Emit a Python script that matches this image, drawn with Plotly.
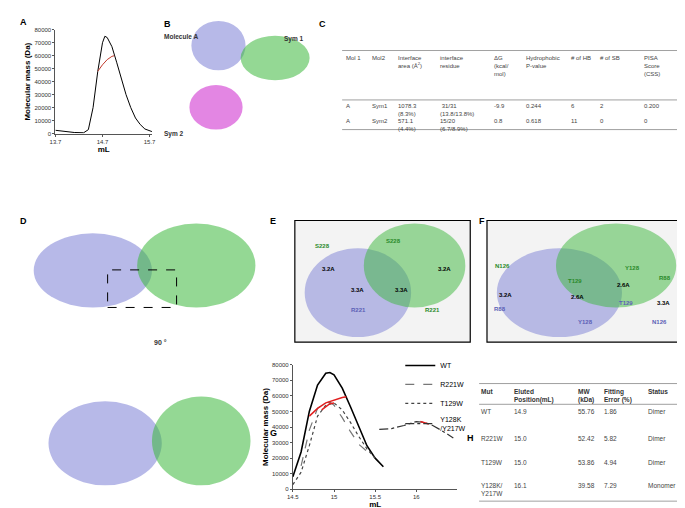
import plotly.graph_objects as go

W, H = 685, 508
def px(x): return x / W
def py(y): return 1 - y / H

# panel A: SEC-MALS of WT
a_ml = [13.7, 13.9, 14.1, 14.3, 14.4, 14.5, 14.6, 14.7, 14.75, 14.8, 14.9, 15.0, 15.1, 15.2, 15.3, 15.4, 15.5, 15.6, 15.75]
a_mass = [2500, 1500, 800, 600, 3000, 20000, 48000, 70000, 75000, 74000, 67000, 55000, 42000, 30000, 20000, 12000, 7000, 3500, 1500]
a_red_ml = [14.6, 14.7, 14.8, 14.9, 14.95]
a_red_mass = [48000, 53000, 57000, 59500, 60000]

# panel G: mutants
wt_ml = [14.5, 14.6, 14.7, 14.8, 14.9, 14.95, 15.0, 15.1, 15.2, 15.3, 15.4, 15.5, 15.6]
wt_mass = [8000, 24000, 50000, 67000, 74500, 75000, 73500, 65000, 53000, 40000, 28000, 20000, 14500]
wt_red_ml = [14.7, 14.8, 14.9, 15.0, 15.1, 15.15]
wt_red = [47000, 52000, 55500, 57500, 59000, 59500]
r221_ml = [14.6, 14.7, 14.8, 14.9, 14.95, 15.0, 15.1, 15.2, 15.3, 15.45]
r221_mass = [15000, 38000, 52000, 55500, 56000, 54000, 46000, 37000, 29000, 22000]
t129_ml = [14.5, 14.6, 14.7, 14.8, 14.9, 15.0, 15.1, 15.2, 15.3, 15.4, 15.5]
t129_mass = [3000, 11000, 28000, 47000, 54000, 55500, 51000, 43000, 34000, 26000, 20000]
mid_red_ml = [14.85, 14.9, 14.95, 15.0]
mid_red = [51000, 53000, 55000, 55500]
y128_ml = [15.55, 15.7, 15.85, 16.0, 16.1, 16.2, 16.3, 16.45]
y128_mass = [38500, 39000, 41000, 43500, 43000, 41000, 38000, 33000]
y128_red_ml = [16.05, 16.1, 16.15]
y128_red = [43500, 42500, 42000]

# table C
c_head = ["Mol 1", "Mol2", "Interface<br>area (Å<sup>2</sup>)", "interface<br>residue", "ΔG<br>(kcal/<br>mol)",
          "Hydrophobic<br>P-value", "# of HB", "# of SB", "PISA<br>Score<br>(CSS)"]
c_row1 = ["A", "Sym1", "1078.3<br>(8.3%)", " 31/31<br>(13.8/13.8%)", "-9.9", "0.244", "6", "2", "0.200"]
c_row2 = ["A", "Sym2", "571.1<br>(4.4%)", "15/20<br>(6.7/8.9%)", "0.8", "0.618", "11", "0", "0"]
c_cols = [335, 361, 388, 430, 485, 518, 563, 593, 637]

# table H
h_head = ["Mut", "Eluted<br>Position(mL)", "MW<br>(kDa)", "Fitting<br>Error (%)", "Status"]
h_rows = [["WT", "14.9", "55.76", "1.86", "Dimer"],
          ["R221W", "15.0", "52.42", "5.82", "Dimer"],
          ["T129W", "15.0", "53.86", "4.94", "Dimer"],
          ["Y128K/<br>Y217W", "16.1", "39.58", "7.29", "Monomer"]]
h_cols = [472, 505, 570, 597, 641]
h_rowy = [400, 427, 451, 475]

fig = go.Figure()
fig.add_trace(go.Scatter(x=a_ml, y=a_mass, mode="lines", line=dict(color="black", width=1), showlegend=False))
fig.add_trace(go.Scatter(x=a_red_ml, y=a_red_mass, mode="lines", line=dict(color="#c0392b", width=1), showlegend=False))

g = dict(xaxis="x2", yaxis="y2")
fig.add_trace(go.Scatter(x=wt_ml, y=wt_mass, name="WT", mode="lines", line=dict(color="black", width=1.6), **g))
fig.add_trace(go.Scatter(x=r221_ml, y=r221_mass, name="R221W", mode="lines", line=dict(color="#777", width=1.2, dash="dash"), **g))
fig.add_trace(go.Scatter(x=t129_ml, y=t129_mass, name="T129W", mode="lines", line=dict(color="#444", width=1.2, dash="dot"), **g))
fig.add_trace(go.Scatter(x=y128_ml, y=y128_mass, name="Y128K<br>/Y217W", mode="lines", line=dict(color="#333", width=1.2, dash="dashdot"), **g))
for xs, ys in [(wt_red_ml, wt_red), (mid_red_ml, mid_red), (y128_red_ml, y128_red)]:
    fig.add_trace(go.Scatter(x=xs, y=ys, mode="lines", line=dict(color="#e02020", width=1.5), showlegend=False, **g))

ann = []
shapes = []
def text(x, y, s, size=7, color="#444", bold=False, xa="left", ya="top"):
    ann.append(dict(x=px(x), y=py(y), xref="paper", yref="paper", text=f"<b>{s}</b>" if bold else s,
                    showarrow=False, xanchor=xa, yanchor=ya, align="left",
                    font=dict(family="Liberation Sans, Arial", size=size, color=color)))
def hline(x0, x1, y, c="#888"):
    shapes.append(dict(type="line", xref="paper", yref="paper", x0=px(x0), x1=px(x1), y0=py(y), y1=py(y), line=dict(color=c, width=0.8)))

for lab, x, y in [("A", 4, 4), ("B", 150, 6), ("C", 307, 6), ("D", 4, 205), ("E", 258, 205), ("F", 470, 205), ("G", 258, 420), ("H", 458, 425)]:
    text(x, y, lab, size=9, color="black", bold=True)

# table C
for row, y in [(c_head, 43), (c_row1, 91), (c_row2, 106)]:
    for s, x in zip(row, c_cols):
        text(x, y, s, size=6)
hline(333, 678, 40); hline(333, 678, 90); hline(333, 678, 120)

# table H
for s, x in zip(h_head, h_cols):
    text(x, 379, s, size=6.5, color="#333", bold=True)
for row, y in zip(h_rows, h_rowy):
    for s, x in zip(row, h_cols):
        text(x, y, s, size=6.5)
hline(472, 684, 377); hline(472, 684, 398); hline(472, 684, 496)

# structure placeholders (x0, y0, x1, y1 in pixels)
blob = [(180, 10, 235, 60, "#7b7fd6"), (230, 25, 300, 70, "#3cb83c"), (178, 75, 232, 120, "#cc22cc"),
        (20, 225, 140, 300, "#7b7fd6"), (125, 215, 245, 300, "#3cb83c"),
        (35, 395, 150, 480, "#7b7fd6"), (140, 390, 240, 480, "#3cb83c")]
for x0, y0, x1, y1, c in blob:
    shapes.append(dict(type="circle", xref="paper", yref="paper", x0=px(x0), x1=px(x1), y0=py(y1), y1=py(y0),
                       fillcolor=c, opacity=0.55, line=dict(width=0)))
shapes.append(dict(type="rect", xref="paper", yref="paper", x0=px(95), x1=px(165), y0=py(300), y1=py(262),
                   line=dict(color="black", width=1, dash="dash")))
text(150, 20, "Molecule A", size=6.5, color="#333", bold=True)
text(272, 22, "Sym 1", size=6.5, color="#333", bold=True)
text(150, 118, "Sym 2", size=6.5, color="#333", bold=True)
text(140, 330, "90 °", size=7, color="#333", bold=True)

for x0, x1, c1, c2 in [(285, 463, "#3cb83c", "#7b7fd6"), (480, 677, "#3cb83c", "#7b7fd6")]:
    shapes.append(dict(type="rect", xref="paper", yref="paper", x0=px(x0), x1=px(x1), y0=py(335), y1=py(212),
                       fillcolor="#f3f3f3", line=dict(color="black", width=1.2), layer="below"))
    shapes.append(dict(type="circle", xref="paper", yref="paper", x0=px(x0 + 10), x1=px(x1 - 60), y0=py(330), y1=py(240),
                       fillcolor=c2, opacity=0.5, line=dict(width=0)))
    shapes.append(dict(type="circle", xref="paper", yref="paper", x0=px(x0 + 70), x1=px(x1 - 5), y0=py(300), y1=py(215),
                       fillcolor=c1, opacity=0.5, line=dict(width=0)))
for s, x, y, c in [("S228", 303, 233, "#2a8a2a"), ("S228", 375, 228, "#2a8a2a"), ("3.2A", 311, 256, "black"),
                   ("3.2A", 428, 256, "black"), ("3.3A", 340, 277, "black"), ("3.3A", 385, 277, "black"),
                   ("R221", 340, 298, "#5b5fb6"), ("R221", 415, 298, "#2a8a2a"),
                   ("N126", 486, 253, "#2a8a2a"), ("Y128", 618, 255, "#2a8a2a"), ("R88", 653, 265, "#2a8a2a"),
                   ("T129", 560, 268, "#2a8a2a"), ("2.6A", 563, 284, "black"), ("2.6A", 610, 272, "black"),
                   ("3.2A", 490, 282, "black"), ("3.3A", 650, 290, "black"), ("R88", 485, 297, "#5b5fb6"),
                   ("T129", 612, 290, "#5b5fb6"), ("Y128", 570, 310, "#5b5fb6"), ("N126", 645, 310, "#5b5fb6")]:
    text(x, y, s, size=6, color=c, bold=True)

ax = dict(showgrid=False, showline=True, linecolor="#555", linewidth=1, ticks="outside", ticklen=2,
          tickcolor="#555", tickfont=dict(family="Liberation Sans, Arial", size=6, color="#333"), zeroline=False)
tf = dict(family="Liberation Sans, Arial", size=8, color="black")
fig.update_layout(
    width=W, height=H, margin=dict(l=0, r=0, t=0, b=0), plot_bgcolor="rgba(0,0,0,0)", paper_bgcolor="white",
    xaxis=dict(ax, domain=[px(42), px(140)], range=[13.7, 15.75], tickvals=[13.7, 14.7, 15.7],
               title=dict(text="<b>mL</b>", font=tf, standoff=2)),
    yaxis=dict(ax, domain=[py(124), py(19)], range=[0, 80000], dtick=10000, tickformat="d",
               title=dict(text="<b>Molecular mass (Da)</b>", font=tf, standoff=2)),
    xaxis2=dict(ax, anchor="y2", domain=[px(283), px(450)], range=[14.5, 16.5], tickvals=[14.5, 15, 15.5, 16],
                title=dict(text="<b>mL</b>", font=tf, standoff=0)),
    yaxis2=dict(ax, anchor="x2", domain=[py(484), py(358)], range=[0, 80000], dtick=10000, tickformat="d",
                title=dict(text="<b>Molecular mass (Da)</b>", font=tf, standoff=2)),
    legend=dict(x=px(392), y=py(344), xanchor="left", yanchor="top", bgcolor="rgba(0,0,0,0)",
                font=dict(family="Liberation Sans, Arial", size=7, color="black"), tracegroupgap=0,
                itemwidth=30, entrywidth=60),
    annotations=ann, shapes=shapes,
)
fig.write_html("out.html")
